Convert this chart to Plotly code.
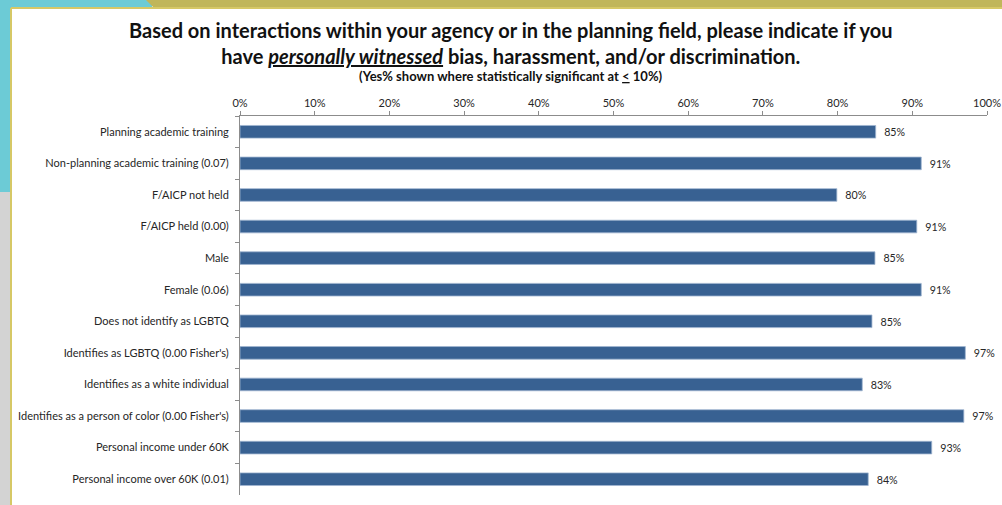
import plotly.graph_objects as go

# ─── DATA ────────────────────────────────────────────────
groups = [
    "Planning academic training",
    "Non-planning academic training (0.07)",
    "F/AICP not held",
    "F/AICP held (0.00)",
    "Male",
    "Female (0.06)",
    "Does not identify as LGBTQ",
    "Identifies as LGBTQ (0.00 Fisher's)",
    "Identifies as a white individual",
    "Identifies as a person of color (0.00 Fisher's)",
    "Personal income under 60K",
    "Personal income over 60K (0.01)",
]
yes_pct = [85.1, 91.2, 79.9, 90.6, 85.0, 91.2, 84.6, 97.1, 83.3, 96.9, 92.6, 84.1]
tick_vals = [0, 10, 20, 30, 40, 50, 60, 70, 80, 90, 100]

# ─── LAYOUT GEOMETRY (pixels) ────────────────────────────
W, H = 1002, 505
L, R, T, B = 240, 15, 116, 10
PW, PH = W - L - R, H - T - B


def px_x(x):
    return (x - L) / PW


def px_y(y):
    return (H - B - y) / PH


BAR = "#386192"
FONT = "Lato, 'Open Sans', sans-serif"
TEAL = "#6ccbd6"
OLIVE = "#c0b65a"
GOLD = "#d6c866"

fig = go.Figure(go.Bar(
    x=yes_pct,
    y=groups,
    orientation="h",
    marker=dict(color=BAR, line=dict(color="#9fb5d1", width=0.8)),
    text=[f"  {round(v)}%" for v in yes_pct],
    textposition="outside",
    textfont=dict(size=11, color="#262626", family=FONT),
    cliponaxis=False,
))

# slide decoration (pixel positions converted to paper units)
P = dict(xref="paper", yref="paper", layer="below")
shapes = [
    dict(type="rect", x0=px_x(0), x1=px_x(152), y0=px_y(0), y1=px_y(8),
         fillcolor=TEAL, line=dict(width=0), **P),
    dict(type="rect", x0=px_x(0), x1=px_x(11), y0=px_y(0), y1=px_y(192),
         fillcolor=TEAL, line=dict(width=0), **P),
    dict(type="rect", x0=px_x(0), x1=px_x(11), y0=px_y(192), y1=px_y(H),
         fillcolor="#d3d3d3", line=dict(width=0), **P),
    dict(type="path",
         path=f"M {px_x(146)} {px_y(0)} L {px_x(W)} {px_y(0)} L {px_x(W)} {px_y(8)} "
              f"L {px_x(154)} {px_y(8)} Z",
         fillcolor=OLIVE, line=dict(width=0), **P),
    dict(type="line", x0=px_x(11), x1=px_x(11), y0=px_y(8), y1=px_y(H),
         line=dict(color=GOLD, width=2), **P),
    dict(type="line", x0=px_x(11), x1=px_x(W), y0=px_y(8), y1=px_y(8),
         line=dict(color=GOLD, width=2), **P),
]

annotations = [
    dict(text="<b>Based on interactions within your agency or in the planning field, please indicate if you<br>"
              "have <i><u>personally witnessed</u></i> bias, harassment, and/or discrimination.</b>",
         x=px_x(511), y=px_y(43), xref="paper", yref="paper", showarrow=False,
         xanchor="center", yanchor="middle",
         font=dict(size=20, color="#111", family=FONT), align="center"),
    dict(text="<b>(Yes% shown where statistically significant at <u>&lt;</u> 10%)</b>",
         x=px_x(511), y=px_y(76), xref="paper", yref="paper", showarrow=False,
         xanchor="center", yanchor="middle",
         font=dict(size=13, color="#111", family=FONT)),
]

fig.update_layout(
    width=W, height=H,
    margin=dict(l=L, r=R, t=T, b=B),
    paper_bgcolor="white",
    plot_bgcolor="white",
    showlegend=False,
    bargap=0.6,
    shapes=shapes,
    annotations=annotations,
    font=dict(family=FONT, color="#262626", size=11),
    xaxis=dict(
        side="top", range=[0, 100], tickvals=tick_vals,
        ticktext=[f"{v}%" for v in tick_vals],
        showgrid=False, zeroline=False, showline=True, linecolor="#8c8c8c",
        ticks="outside", ticklen=4, tickcolor="#8c8c8c",
        tickfont=dict(size=11, family=FONT, color="#262626"),
        automargin=False, fixedrange=True,
    ),
    yaxis=dict(
        autorange="reversed", showgrid=False, showline=True, linecolor="#8c8c8c",
        ticks="outside", ticklen=4, tickcolor="#8c8c8c", tickson="boundaries",
        tickfont=dict(size=11, family=FONT, color="#262626"),
        ticklabelstandoff=8,
        automargin=False, fixedrange=True,
    ),
)

fig.write_html("out.html", config={"displayModeBar": False},
               post_script="document.body.style.margin='0';")
